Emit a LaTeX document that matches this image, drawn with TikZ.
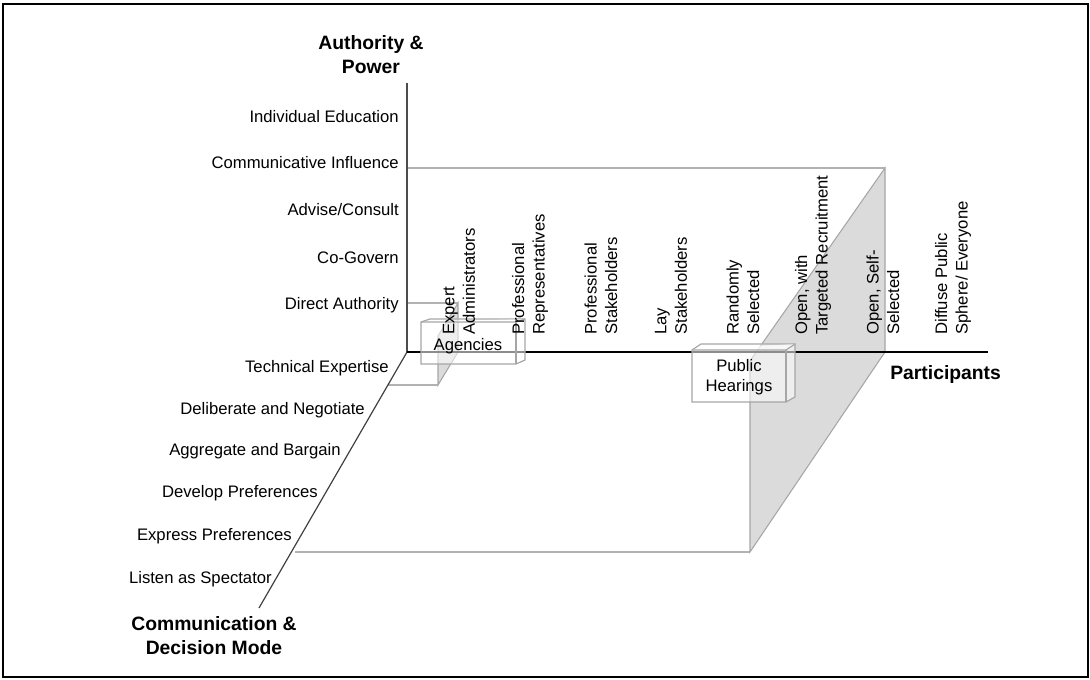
\documentclass[tikz,border=0pt]{standalone}
\usepackage{fontspec}
\setmainfont{Liberation Sans}
\begin{document}
\begin{tikzpicture}[x=0.75pt,y=-0.75pt,
  lbl/.style={font=\fontsize{12.5}{15.4}\selectfont,inner sep=0pt},
  ttl/.style={font=\fontsize{14.5}{18}\selectfont\bfseries,inner sep=0pt,align=center},
  plab/.style={lbl,rotate=90,anchor=west,align=left},
  planeline/.style={draw=black!30,line width=1.1pt},
  face/.style={fill=black!14,draw=black!35,line width=0.8pt},
  cube/.style={draw=black!35,line width=0.9pt,fill=white,fill opacity=0.55},
]
\useasboundingbox (0,0) rectangle (1090,680);
\draw[line width=1.6pt] (3,4) rectangle (1088,677);

% back plane and bottom plane
\draw[planeline] (407,168) -- (885,168);
\draw[planeline] (295,552) -- (750,552);
% big side face
\draw[face] (885,168) -- (885,352) -- (750,552) -- (750,361) -- cycle;
% small prism
\draw[planeline] (407,303) -- (458,303);
\draw[planeline] (388,385) -- (438,385);
\draw[face] (458,303) -- (458,352) -- (438,385) -- (438,336) -- cycle;

% axes
\draw[draw=black!70,line width=1.1pt] (407,83) -- (407,352);
\draw[draw=black!75,line width=0.9pt] (407,352) -- (259,608);
\draw[line width=1.7pt] (407,352) -- (988,352);

% boxes
\draw[cube] (430,319) -- (525,319) -- (525,360) -- (516,364) -- (421,364) -- (421,322) -- cycle;
\draw[cube] (421,322) -- (516,322) -- (525,319);
\draw[cube] (516,322) -- (516,364);
\node[lbl] (agencies) at (468,346) {Agencies};

\draw[cube] (701,344) -- (795,344) -- (795,397) -- (786,402) -- (692,402) -- (692,350) -- cycle;
\draw[cube] (692,350) -- (786,350) -- (795,344);
\draw[cube] (786,350) -- (786,402);
\node[lbl,align=center] (hearings) at (739,377) {Public\\Hearings};

% titles
\node[ttl] (authority) at (371,55) {Authority \&\\Power};
\node[ttl] (commmode) at (214,636) {Communication \&\\Decision Mode};
\node[ttl,anchor=west] (participants) at (890,375) {Participants};

% vertical axis labels
\node[lbl,anchor=mid east] (l1) at (399,119) {Individual Education};
\node[lbl,anchor=mid east] (l2) at (399,165) {Communicative Influence};
\node[lbl,anchor=mid east] (l3) at (399,212) {Advise/Consult};
\node[lbl,anchor=mid east] (l4) at (399,260) {Co-Govern};
\node[lbl,anchor=mid east] (l5) at (399,306) {Direct Authority};

% diagonal axis labels
\node[lbl,anchor=mid east] (d1) at (389,369) {Technical Expertise};
\node[lbl,anchor=mid east] (d2) at (365,411) {Deliberate and Negotiate};
\node[lbl,anchor=mid east] (d3) at (341,452) {Aggregate and Bargain};
\node[lbl,anchor=mid east] (d4) at (318,494) {Develop Preferences};
\node[lbl,anchor=mid east] (d5) at (292,537) {Express Preferences};
\node[lbl,anchor=mid east] (d6) at (272,580) {Listen as Spectator};

% participant labels
\node[plab] (p1) at (459,335) {Expert\\Administrators};
\node[plab] (p2) at (530,335) {Professional\\Representatives};
\node[plab] (p3) at (601,335) {Professional\\Stakeholders};
\node[plab] (p4) at (671,335) {Lay\\Stakeholders};
\node[plab] (p5) at (743,335) {Randomly\\Selected};
\node[plab] (p6) at (813,335) {Open, with\\Targeted Recruitment};
\node[plab] (p7) at (883,335) {Open, Self-\\Selected};
\node[plab] (p8) at (953,335) {Diffuse Public\\Sphere/ Everyone};
\end{tikzpicture}
\end{document}
